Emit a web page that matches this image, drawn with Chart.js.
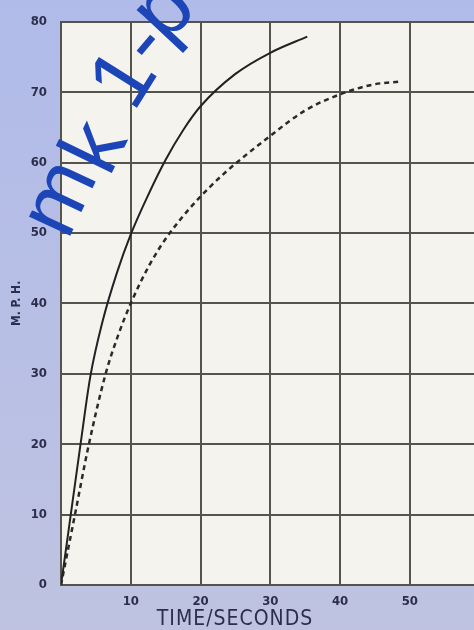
<!DOCTYPE html>
<html>
<head>
<meta charset="utf-8">
<script src="https://cdn.jsdelivr.net/npm/chart.js@4/dist/chart.umd.min.js"></script>
<style>
  html, body { margin: 0; padding: 0; background: #b8bee2; }
  canvas { display: block; }
</style>
</head>
<body>
<canvas id="chart" width="474" height="630"></canvas>
<script>
// Acceleration curves: time (s) vs speed (mph)
const solidTime  = [0, 1.4, 2.8, 4.2, 6, 8, 10, 12.5, 15, 17.5, 20, 25, 30, 35.3];
const solidMph   = [0, 10, 20, 29.6, 37.6, 44.3, 49.8, 55.4, 60.4, 64.6, 68, 72.6, 75.6, 77.9];
const dashedTime = [0, 2, 4, 6.4, 8.2, 10, 12.7, 15.6, 21.4, 30, 35, 40, 44.8, 48.4];
const dashedMph  = [0, 10, 20, 30, 35.5, 40, 45.5, 50, 56.6, 63.8, 67.4, 69.7, 71.1, 71.5];
const xRange = [0, 59.2];
const yRange = [0, 80];
const tickStep = 10;

const toPoints = (xs, ys) => xs.map((x, i) => ({ x: x, y: ys[i] }));
const tickFont = { family: '"Liberation Sans Narrow", "DejaVu Sans Condensed", sans-serif', size: 13, weight: 'bold' };
const ink = '#2c2e4c';

// watermark letters sit on a slight curve, so each one is placed on its own
const mark = [
  { ch: 'm', x: 62, y: 199, deg: -65, lift: 23 },
  { ch: 'k', x: 90, y: 145, deg: -64, lift: 32 },
  { ch: '1', x: 119, y: 76, deg: -58, lift: 32 },
  { ch: '-', x: 145, y: 44, deg: -50, lift: 24 },
  { ch: 'p', x: 172, y: 18, deg: -47, lift: 14 }
];

// page + plot background, x title and the blue watermark
const paper = {
  id: 'paper',
  beforeDraw(chart) {
    const { ctx, chartArea: a } = chart;
    ctx.save();
    const g = ctx.createLinearGradient(0, 0, 0, chart.height);
    g.addColorStop(0, '#b0bbe9');
    g.addColorStop(1, '#bfc3e1');
    ctx.fillStyle = g;
    ctx.fillRect(0, 0, chart.width, chart.height);
    ctx.fillStyle = '#f5f3ee';
    ctx.fillRect(a.left, a.top, a.right - a.left, a.bottom - a.top);
    ctx.restore();
  },
  afterDraw(chart) {
    const ctx = chart.ctx;
    ctx.save();
    ctx.fillStyle = ink;
    ctx.font = '21px "DejaVu Sans Condensed", sans-serif';
    ctx.letterSpacing = '1px';
    ctx.textAlign = 'center';
    ctx.textBaseline = 'middle';
    ctx.fillText('TIME/SECONDS', 235, 620);
    ctx.restore();

    ctx.save();
    ctx.fillStyle = '#1c46b8';
    ctx.font = '86px "Liberation Sans", sans-serif';
    ctx.textAlign = 'center';
    ctx.textBaseline = 'alphabetic';
    mark.forEach(m => {
      ctx.save();
      ctx.translate(m.x, m.y);
      ctx.rotate(m.deg * Math.PI / 180);
      ctx.fillText(m.ch, 0, m.lift);
      ctx.restore();
    });
    ctx.restore();
  }
};

new Chart(document.getElementById('chart').getContext('2d'), {
  type: 'line',
  data: {
    datasets: [
      { data: toPoints(solidTime, solidMph), borderColor: '#222', borderWidth: 2, pointRadius: 0, cubicInterpolationMode: 'monotone' },
      { data: toPoints(dashedTime, dashedMph), borderColor: '#2a2a2a', borderWidth: 2.5, borderDash: [5, 4], pointRadius: 0, cubicInterpolationMode: 'monotone' }
    ]
  },
  options: {
    responsive: false,
    animation: false,
    layout: { padding: { top: 18, right: 0, bottom: 0, left: 0 } },
    plugins: { legend: { display: false }, tooltip: { enabled: false } },
    scales: {
      x: {
        type: 'linear',
        min: xRange[0], max: xRange[1],
        afterFit: s => { s.height = 45; },
        grid: { color: '#55544c', lineWidth: 2, drawTicks: false },
        border: { display: false },
        ticks: {
          stepSize: tickStep, includeBounds: false, padding: 9, color: ink, font: tickFont,
          callback: v => v === 0 ? '' : v
        }
      },
      y: {
        min: yRange[0], max: yRange[1],
        afterFit: s => { s.width = 61; },
        grid: { color: '#55544c', lineWidth: 2, drawTicks: false },
        border: { display: true, color: '#55544c', width: 2 },
        ticks: { stepSize: tickStep, padding: 14, color: ink, font: tickFont },
        title: {
          display: true, text: 'M. P. H.', color: ink,
          font: { family: '"DejaVu Sans Condensed", sans-serif', size: 12, weight: 'bold' },
          padding: { top: 10, bottom: 0 }
        }
      }
    }
  },
  plugins: [paper]
});
</script>
</body>
</html>
